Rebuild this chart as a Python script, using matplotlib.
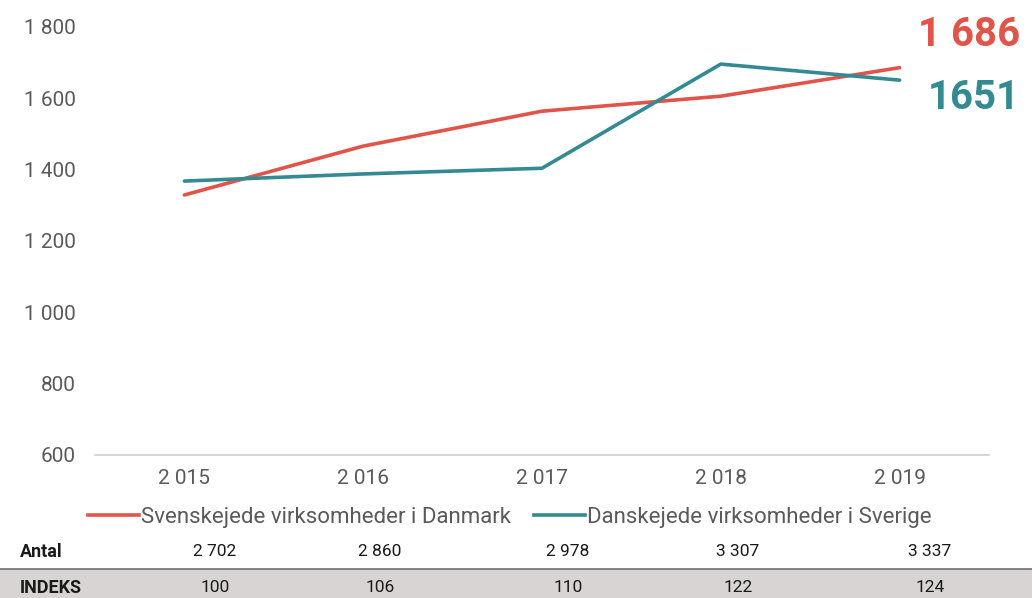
import numpy as np
import matplotlib.pyplot as plt
from matplotlib.patches import Rectangle
from matplotlib.lines import Line2D

# Data
aar = ["2 015", "2 016", "2 017", "2 018", "2 019"]
svenskejede_dk = [1329, 1466, 1564, 1606, 1686]
danskejede_se = [1368, 1388, 1404, 1696, 1651]
antal = ["2 702", "2 860", "2 978", "3 307", "3 337"]
indeks = ["100", "106", "110", "122", "124"]
y_ticks = [600, 800, 1000, 1200, 1400, 1600, 1800]
y_labels = ["600", "800", "1 000", "1 200", "1 400", "1 600", "1 800"]

roed = "#e0544a"
teal = "#348a92"
graa = "#5a5a5a"

plt.rcParams['font.family'] = ['Roboto', 'DejaVu Sans']

fig = plt.figure(figsize=(10.32, 5.98), dpi=100)
ax = fig.add_axes([95 / 1032, 1 - 455 / 598, (989 - 95) / 1032, (455 - 27) / 598])

x = np.arange(len(aar))
ax.plot(x, svenskejede_dk, color=roed, lw=2.6, solid_capstyle='round',
        label="Svenskejede virksomheder i Danmark")
ax.plot(x, danskejede_se, color=teal, lw=2.6, solid_capstyle='round',
        label="Danskejede virksomheder i Sverige")

ax.set_xlim(-0.5, len(aar) - 0.5)
ax.set_ylim(600, 1800)
ax.set_yticks(y_ticks)
ax.set_yticklabels(y_labels)
ax.set_xticks(x)
ax.set_xticklabels(aar)
ax.tick_params(axis='y', length=0, pad=14, labelsize=15, labelcolor=graa)
ax.tick_params(axis='x', length=0, pad=10, labelsize=15, labelcolor=graa)
for s in ['top', 'right', 'left']:
    ax.spines[s].set_visible(False)
ax.spines['bottom'].set_color('#d0d0d0')
ax.spines['bottom'].set_linewidth(1.2)

# Slutværdier
fig.text(1020 / 1032, 1 - 35 / 598, "1 686", color=roed, fontsize=29,
         fontweight='bold', ha='right', va='center')
fig.text(1020 / 1032, 1 - 98 / 598, "1651", color=teal, fontsize=29,
         fontweight='bold', ha='right', va='center')

# Legende
handles = [Line2D([], [], color=roed, lw=2.6), Line2D([], [], color=teal, lw=2.6)]
fig.legend(handles, ["Svenskejede virksomheder i Danmark", "Danskejede virksomheder i Sverige"],
           loc='center left', bbox_to_anchor=(88 / 1032, 1 - 517 / 598), ncol=2,
           frameon=False, fontsize=16, handlelength=2.3, handletextpad=0.1,
           columnspacing=1.0, labelcolor=graa, borderpad=0, borderaxespad=0)

# Tabel
kol_x = [215, 380, 568, 738, 930]
fig.patches.append(Rectangle((0, 0), 1, (598 - 569) / 598, transform=fig.transFigure,
                             facecolor='#d9d4d4', edgecolor='none', zorder=0))
fig.add_artist(Line2D([0, 1], [1 - 569 / 598] * 2, transform=fig.transFigure,
                      color='#6e6e6e', lw=1.2))
fig.text(20 / 1032, 1 - 552 / 598, "Antal", fontsize=13, fontweight='bold',
         color='#1a1a1a', va='center')
fig.text(20 / 1032, 1 - 588 / 598, "INDEKS", fontsize=13, fontweight='bold',
         color='#1a1a1a', va='center')
for cx, a, i in zip(kol_x, antal, indeks):
    fig.text(cx / 1032, 1 - 552 / 598, a, fontsize=12.5, color='#1a1a1a',
             ha='center', va='center')
    fig.text(cx / 1032, 1 - 588 / 598, i, fontsize=12.5, color='#1a1a1a',
             ha='center', va='center')

fig.savefig("out.png", dpi=100)
